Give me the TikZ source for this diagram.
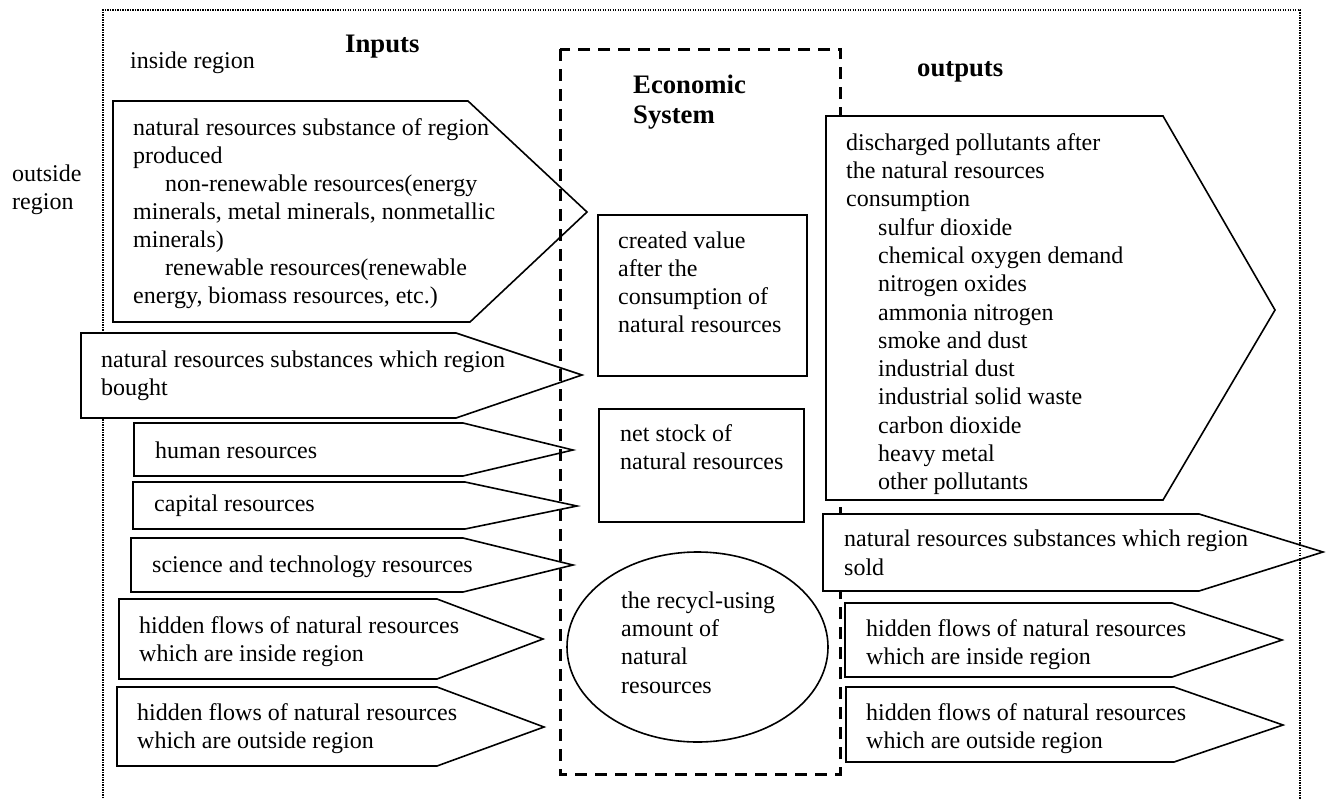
\documentclass[tikz,border=0pt]{standalone}
\usepackage{fontspec}
\setmainfont{Liberation Serif}
\newcommand\bodyfont{\fontsize{24}{28}\selectfont}
\newcommand\headfont{\fontsize{26.7}{30}\selectfont\bfseries}
\newcommand\fstrut{\rule{0pt}{20pt}}
\newcommand\ind{\hspace*{32pt}}
\tikzset{
  flow/.style={draw=black, line width=1.6pt, fill=white, line join=miter},
  midbox/.style={draw=black, line width=1.6pt},
  txt/.style={anchor=north west, inner sep=0pt, align=left, font=\bodyfont},
  stxt/.style={anchor=base west, inner sep=0pt, font=\bodyfont},
  head/.style={anchor=base west, inner sep=0pt, font=\headfont},
  econ/.style={draw=black, line width=3pt, dash pattern=on 12pt off 8pt},
  region/.style={draw=black, line width=1.3pt, dash pattern=on 1.2pt off 1.3pt}
}
\begin{document}
\begin{tikzpicture}[x=1pt,y=-1pt]
\useasboundingbox (0,0) rectangle (1327,798);
% outer dotted region border
\draw[region] (103,798) -- (103,10) -- (1300,10) -- (1300,798);

% headings and region labels
\node[head] (hin) at (345,52) {Inputs};
\node[stxt] (inreg) at (130,68) {inside region};
\node[txt] (outreg) at (12,161) {\fstrut outside\\region};

% ---- inputs ----
\draw[flow] (113,101) -- (468,101) -- (587,212) -- (470,322) -- (113,322) -- cycle;
\node[txt] (t1) at (133,115) {\fstrut natural resources substance of region\\produced\\
\ind non-renewable resources(energy\\minerals, metal minerals, nonmetallic\\minerals)\\
\ind renewable resources(renewable\\energy, biomass resources, etc.)};

\draw[flow] (81,333) -- (456,333) -- (582,375) -- (456,418) -- (81,418) -- cycle;
\node[txt, font=\fontsize{24}{28.5}\selectfont] (t2) at (101,347) {\fstrut natural resources substances which region\\bought};

\draw[flow] (134,423) -- (463,423) -- (573,450) -- (463,476) -- (134,476) -- cycle;
\node[stxt] (t3) at (155,458) {human resources};

\draw[flow] (133,482) -- (465,482) -- (577,506) -- (465,529) -- (133,529) -- cycle;
\node[stxt] (t4) at (154,511) {capital resources};

\draw[flow] (131,538) -- (463,538) -- (573,565) -- (463,592) -- (131,592) -- cycle;
\node[stxt] (t5) at (152,572) {science and technology resources};

\draw[flow] (119,599) -- (437,599) -- (543,639) -- (437,679) -- (119,679) -- cycle;
\node[txt, font=\fontsize{24}{28.5}\selectfont] (t6) at (139,613) {\fstrut hidden flows of natural resources\\which are inside region};

\draw[flow] (117,687) -- (437,687) -- (544,727) -- (437,766) -- (117,766) -- cycle;
\node[txt, font=\fontsize{24}{28.5}\selectfont] (t7) at (137,700) {\fstrut hidden flows of natural resources\\which are outside region};

% ---- economic system ----
\draw[econ] (560,49) rectangle (840,774);
\node[txt, font=\headfont] (econh) at (633,73) {\fstrut Economic\\System};

\draw[midbox] (598,215) rectangle (807,376);
\node[txt] (cv) at (618,228) {\fstrut created value\\after the\\consumption of\\natural resources};

\draw[midbox] (599,409) rectangle (804,522);
\node[txt] (ns) at (620,421) {\fstrut net stock of\\natural resources};

\draw[midbox] (697.5,647) ellipse [x radius=130.5pt, y radius=95pt];
\node[txt, font=\fontsize{24}{28.3}\selectfont] (rc) at (621,588) {\fstrut the recycl-using\\amount of\\natural\\resources};

% ---- outputs ----
\node[head] (hout) at (917,76) {outputs};

\draw[flow] (826,116) -- (1163,116) -- (1275,310) -- (1163,500) -- (826,500) -- cycle;
\node[txt, font=\fontsize{24}{28.3}\selectfont] (tb) at (846,130) {\fstrut discharged pollutants after\\the natural resources\\consumption\\
\ind sulfur dioxide\\\ind chemical oxygen demand\\\ind nitrogen oxides\\\ind ammonia nitrogen\\
\ind smoke and dust\\\ind industrial dust\\\ind industrial solid waste\\\ind carbon dioxide\\
\ind heavy metal\\\ind other pollutants};

\draw[flow] (823,514) -- (1199,514) -- (1323,552) -- (1199,591) -- (823,591) -- cycle;
\node[txt, font=\fontsize{24}{29}\selectfont] (tc) at (844,526) {\fstrut natural resources substances which region\\sold};

\draw[flow] (845,603) -- (1172,603) -- (1282,640) -- (1172,677) -- (845,677) -- cycle;
\node[txt] (td) at (866,616) {\fstrut hidden flows of natural resources\\which are inside region};

\draw[flow] (846,687) -- (1174,687) -- (1283,725) -- (1174,762) -- (846,762) -- cycle;
\node[txt] (te) at (866,700) {\fstrut hidden flows of natural resources\\which are outside region};

% right part of the region border lies over the outputs
\draw[region] (1300,10) -- (1300,798);
\end{tikzpicture}
\end{document}
